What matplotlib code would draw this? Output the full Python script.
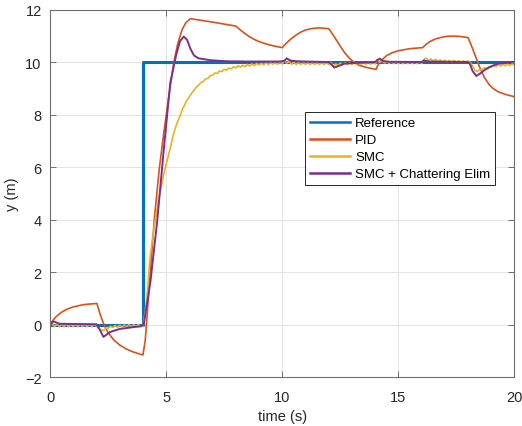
import numpy as np
import matplotlib
matplotlib.use("Agg")
import matplotlib.pyplot as plt

plt.rcParams['font.family'] = ['Liberation Sans', 'DejaVu Sans']

# step reference
ref_t = [0, 4, 4, 20]
ref_y = [0, 0, 10, 10]

# PID response
pid_t = [0, 0.1, 0.25, 0.5, 0.75, 1.0, 1.4, 1.7, 2.02, 2.15, 2.3, 2.5, 2.75, 3.0, 3.3, 3.6, 4.0,
         4.1, 4.3, 4.5, 4.7, 4.9, 5.1, 5.33, 5.5, 5.69, 5.85, 6.05,
         7.0, 8.0, 8.2, 8.4, 8.6, 8.8, 9.0, 9.3, 9.6, 10.0,
         10.2, 10.4, 10.6, 10.8, 11.0, 11.3, 11.6, 12.0,
         12.1, 12.3, 12.5, 12.7, 12.9, 13.1, 13.3, 13.6, 14.04,
         14.1, 14.25, 14.5, 14.75, 15.0, 15.5, 16.05,
         16.2, 16.4, 16.6, 16.85, 17.1, 17.4, 17.7, 18.0,
         18.1, 18.2, 18.35, 18.5, 18.7, 18.9, 19.1, 19.3, 19.6, 20.0]
pid_y = [0, 0.14, 0.3, 0.48, 0.6, 0.68, 0.76, 0.79, 0.81, 0.42, 0.05, -0.3, -0.58, -0.77, -0.93, -1.04, -1.15,
         -0.6, 1.8, 4.1, 5.9, 7.3, 8.6, 9.98, 10.7, 11.24, 11.5, 11.65,
         11.52, 11.37, 11.22, 11.08, 10.96, 10.86, 10.78, 10.69, 10.62, 10.55,
         10.74, 10.9, 11.03, 11.14, 11.22, 11.28, 11.3, 11.27,
         11.15, 10.88, 10.6, 10.34, 10.14, 9.98, 9.88, 9.8, 9.72,
         9.85, 10.05, 10.25, 10.36, 10.43, 10.51, 10.55,
         10.68, 10.8, 10.88, 10.94, 10.98, 10.99, 10.97, 10.93,
         10.72, 10.5, 10.15, 9.8, 9.42, 9.15, 8.98, 8.87, 8.77, 8.68]

# SMC response, sampled every 0.1 s
smc_t = np.linspace(0, 20, 201)
smc_y = [
    0.00, 0.03, -0.07, 0.03, -0.07, 0.03, -0.07, 0.03, -0.07, 0.03,
    -0.07, 0.03, -0.07, 0.03, -0.07, 0.03, -0.07, 0.03, -0.07, 0.03,
    -0.06, -0.12, -0.20, -0.22, -0.14, -0.13, -0.06, -0.10, -0.03, -0.09,
    -0.02, -0.08, -0.01, -0.07, 0.00, -0.07, 0.00, -0.06, 0.01, -0.06,
    -0.05, 0.5, 1.3, 2.5, 3.2, 3.8, 4.35, 4.85, 5.3, 5.75,
    6.1, 6.45, 6.8, 7.2, 7.5, 7.75, 7.95, 8.2, 8.38, 8.55,
    8.68, 8.82, 8.92, 9.05, 9.12, 9.22, 9.26, 9.36, 9.38, 9.48,
    9.50, 9.58, 9.57, 9.66, 9.64, 9.72, 9.69, 9.77, 9.74, 9.82,
    9.78, 9.86, 9.81, 9.88, 9.83, 9.91, 9.85, 9.93, 9.87, 9.95,
    9.89, 9.96, 9.90, 9.97, 9.91, 9.98, 9.92, 9.98, 9.92, 9.99,
    9.93, 10.06, 9.96, 10.02, 9.92, 10.00, 9.91, 9.99, 9.91, 9.99,
    9.91, 9.99, 9.91, 9.99, 9.91, 9.99, 9.91, 9.99, 9.91, 9.99,
    9.91, 9.98, 9.84, 9.93, 9.87, 9.96, 9.89, 9.98, 9.90, 9.98,
    9.91, 9.99, 9.91, 9.99, 9.92, 9.99, 9.92, 10.00, 9.92, 10.00,
    9.93, 10.09, 10.00, 10.06, 9.96, 10.03, 9.94, 10.02, 9.94, 10.01,
    9.94, 10.01, 9.94, 10.01, 9.94, 10.01, 9.94, 10.01, 9.94, 10.01,
    9.95, 10.10, 10.15, 10.06, 10.12, 10.04, 10.10, 10.02, 10.08, 10.01,
    10.07, 10.00, 10.06, 10.00, 10.06, 10.00, 10.05, 9.99, 10.05, 9.99,
    10.04, 9.98, 9.85, 9.68, 9.64, 9.72, 9.70, 9.78, 9.76, 9.83,
    9.80, 9.87, 9.83, 9.90, 9.85, 9.92, 9.86, 9.93, 9.87, 9.94,
    9.88]

# SMC with chattering elimination
smce_t = [0, 0.15, 0.4, 1.0, 2.0, 2.15, 2.3, 2.6, 3.0, 3.5, 3.9, 4.0,
          4.05, 4.32, 4.61, 4.9, 5.18, 5.44, 5.6, 5.76, 5.9, 6.05, 6.2, 6.4, 6.91, 7.6, 8.5, 9.9,
          10.1, 10.19, 10.35, 10.6, 11.0, 12.0, 12.1, 12.24, 12.45, 12.68, 13.2, 14.0,
          14.1, 14.2, 14.35, 14.6, 16.0, 16.1, 16.3, 18.0, 18.07, 18.2, 18.36, 18.5,
          18.72, 19.0, 19.3, 20.0]
smce_y = [0, 0.13, 0.04, 0.03, 0.02, -0.2, -0.46, -0.27, -0.16, -0.1, -0.06, 0.0,
          0.09, 1.61, 3.89, 6.68, 9.22, 10.3, 10.8, 10.97, 10.85, 10.5, 10.25, 10.14, 10.07, 10.03, 10.02, 10.02,
          10.05, 10.14, 10.06, 10.03, 10.02, 10.0, 9.92, 9.79, 9.86, 9.94, 9.97, 10.0,
          10.08, 10.13, 10.04, 10.01, 10.0, 10.06, 10.02, 10.0, 9.95, 9.65, 9.47, 9.55,
          9.7, 9.84, 9.94, 10.0]

series_labels = ['Reference', 'PID', 'SMC', 'SMC + Chattering Elim']
colors = ['#0072BD', '#D95319', '#EDB120', '#7E2F8E']

fig = plt.figure(figsize=(5.22, 4.27), dpi=100)
ax = fig.add_axes([0.0958, 0.114, 0.8898, 0.8614])

ax.plot(ref_t, ref_y, color=colors[0], lw=2.2, label=series_labels[0])
ax.plot(pid_t, pid_y, color=colors[1], lw=1.2, label=series_labels[1])
ax.plot(smc_t, smc_y, color=colors[2], lw=1.2, label=series_labels[2])
ax.plot(smce_t, smce_y, color=colors[3], lw=1.4, label=series_labels[3])

ax.set_xlim(0, 20)
ax.set_ylim(-2, 12)
ax.set_xticks([0, 5, 10, 15, 20])
ax.set_yticks(np.arange(-2, 13, 2))
ax.grid(True, color='#e3e3e3', lw=0.7)
ax.set_axisbelow(True)

txt = '#262626'
for sp in ax.spines.values():
    sp.set_color('#6e6e6e')
    sp.set_linewidth(0.8)
ax.tick_params(direction='in', length=4, width=0.7, color='#6e6e6e',
               top=True, right=True, labelsize=10.5, labelcolor=txt)
ax.tick_params(axis='x', pad=9)
ax.tick_params(axis='y', pad=6)
ax.set_xlabel('time (s)', fontsize=10.5, color=txt, labelpad=4)
ax.set_ylabel('y (m)', fontsize=10.5, color=txt, labelpad=4)

leg = ax.legend(loc='upper left', bbox_to_anchor=(0.55, 0.7205), fontsize=9.5,
                fancybox=False, framealpha=1, edgecolor='#262626',
                handlelength=3.0, handletextpad=0.4, labelspacing=0.36,
                borderpad=0.35, borderaxespad=0)
leg.get_frame().set_linewidth(0.7)
for line in leg.get_lines():
    line.set_linewidth(1.8)

fig.savefig('out.png', dpi=100)
